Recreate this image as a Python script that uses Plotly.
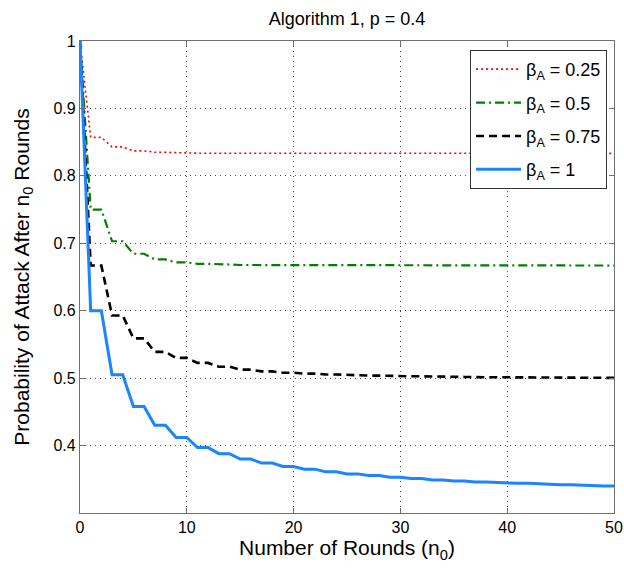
import plotly.graph_objects as go

rounds = list(range(51))

p_beta_025 = [1.0,
              0.857, 0.857, 0.843, 0.843, 0.837, 0.837, 0.835, 0.835, 0.834, 0.834,
              0.8336, 0.8336, 0.8335, 0.8335, 0.8334, 0.8334, 0.8334, 0.8334, 0.8334, 0.8334,
              0.8334, 0.8334, 0.8334, 0.8334, 0.8334, 0.8334, 0.8334, 0.8334, 0.8334, 0.8334,
              0.8334, 0.8334, 0.8334, 0.8334, 0.8334, 0.8334, 0.8334, 0.8334, 0.8334, 0.8334,
              0.8334, 0.8334, 0.8334, 0.8334, 0.8334, 0.8334, 0.8334, 0.8334, 0.8334, 0.8334]

p_beta_05 = [1.0,
             0.750, 0.750, 0.703, 0.703, 0.6845, 0.6845, 0.676, 0.676, 0.6716, 0.6716,
             0.6696, 0.6696, 0.6685, 0.6685, 0.6678, 0.6678, 0.6674, 0.6674, 0.6671, 0.6671,
             0.667, 0.667, 0.667, 0.667, 0.667, 0.667, 0.667, 0.667, 0.667, 0.667,
             0.667, 0.667, 0.667, 0.667, 0.667, 0.667, 0.667, 0.667, 0.667, 0.667,
             0.667, 0.667, 0.667, 0.667, 0.667, 0.667, 0.667, 0.667, 0.667, 0.667]

p_beta_075 = [1.0,
              0.667, 0.667, 0.593, 0.593, 0.559, 0.559, 0.539, 0.539, 0.530, 0.530,
              0.5226, 0.5226, 0.517, 0.517, 0.5126, 0.5126, 0.510, 0.510, 0.508, 0.508,
              0.5067, 0.5067, 0.5055, 0.5055, 0.5046, 0.5046, 0.5038, 0.5038, 0.5032, 0.5032,
              0.5027, 0.5027, 0.5022, 0.5022, 0.5018, 0.5018, 0.5015, 0.5015, 0.5012, 0.5012,
              0.501, 0.501, 0.5008, 0.5008, 0.5006, 0.5006, 0.5005, 0.5005, 0.5004, 0.5004]

p_beta_1 = [1.0,
            0.600, 0.600, 0.505, 0.505, 0.458, 0.458, 0.430, 0.430, 0.412, 0.412,
            0.397, 0.397, 0.388, 0.388, 0.380, 0.380, 0.374, 0.374, 0.369, 0.369,
            0.365, 0.365, 0.361, 0.361, 0.358, 0.358, 0.3555, 0.3555, 0.353, 0.353,
            0.351, 0.351, 0.349, 0.349, 0.3475, 0.3475, 0.346, 0.346, 0.345, 0.345,
            0.344, 0.344, 0.343, 0.343, 0.342, 0.342, 0.341, 0.341, 0.340, 0.340]

series_names = ["β<sub>A</sub> = 0.25", "β<sub>A</sub> = 0.5",
                "β<sub>A</sub> = 0.75", "β<sub>A</sub> = 1"]
x_ticks = [0, 10, 20, 30, 40, 50]
y_ticks = [0.4, 0.5, 0.6, 0.7, 0.8, 0.9, 1]
y_tick_text = ["0.4", "0.5", "0.6", "0.7", "0.8", "0.9", "1"]

fig = go.Figure()
fig.add_trace(go.Scatter(x=rounds, y=p_beta_025, mode="lines", name=series_names[0],
                         legendgroup="g1",
                         line=dict(color="#ff0000", width=1.6, dash="2px,3px")))
fig.add_trace(go.Scatter(x=rounds, y=p_beta_05, mode="lines", name=series_names[1],
                         legendgroup="g2",
                         line=dict(color="#008000", width=2.2, dash="9px,4px,2px,4px")))
fig.add_trace(go.Scatter(x=rounds, y=p_beta_075, mode="lines", name=series_names[2],
                         legendgroup="g3",
                         line=dict(color="#000000", width=2.6, dash="8px,5px")))
fig.add_trace(go.Scatter(x=rounds, y=p_beta_1, mode="lines", name=series_names[3],
                         legendgroup="g4",
                         line=dict(color="#1a85ff", width=3)))

axis_common = dict(
    showline=True, linecolor="#707070", linewidth=1.2, mirror="ticks",
    ticks="inside", ticklen=5, tickcolor="#707070",
    showgrid=True, gridcolor="rgba(0,0,0,0.7)", griddash="1px,4px", gridwidth=1,
    zeroline=False, automargin=False,
    tickfont=dict(family="Liberation Sans, Arial", size=16, color="#000"),
)

fig.update_layout(
    width=624, height=569,
    margin=dict(l=80, r=10, t=41, b=56),
    paper_bgcolor="white", plot_bgcolor="white",
    font=dict(family="Liberation Sans, Arial", color="#000"),
    title=dict(text="Algorithm 1, p = 0.4", x=0.556, xanchor="center",
               y=0.968, yanchor="middle",
               font=dict(size=18, family="Liberation Sans, Arial", color="#000")),
    xaxis=dict(range=[0, 50], tickvals=x_ticks,
               title=dict(text="Number of Rounds (n<sub>0</sub>)", standoff=1,
                          font=dict(size=21)),
               **axis_common),
    yaxis=dict(range=[0.3, 1], tickvals=y_ticks, ticktext=y_tick_text,
               title=dict(text="Probability of Attack After n<sub>0</sub> Rounds", standoff=18,
                          font=dict(size=21)),
               **axis_common),
    legend=dict(x=0.987, y=0.981, xanchor="right", yanchor="top",
                bgcolor="white", bordercolor="#333", borderwidth=1,
                font=dict(size=18, family="Liberation Sans, Arial", color="#000"),
                tracegroupgap=7, itemwidth=45),
    showlegend=True,
)

fig.write_html("out.html")
